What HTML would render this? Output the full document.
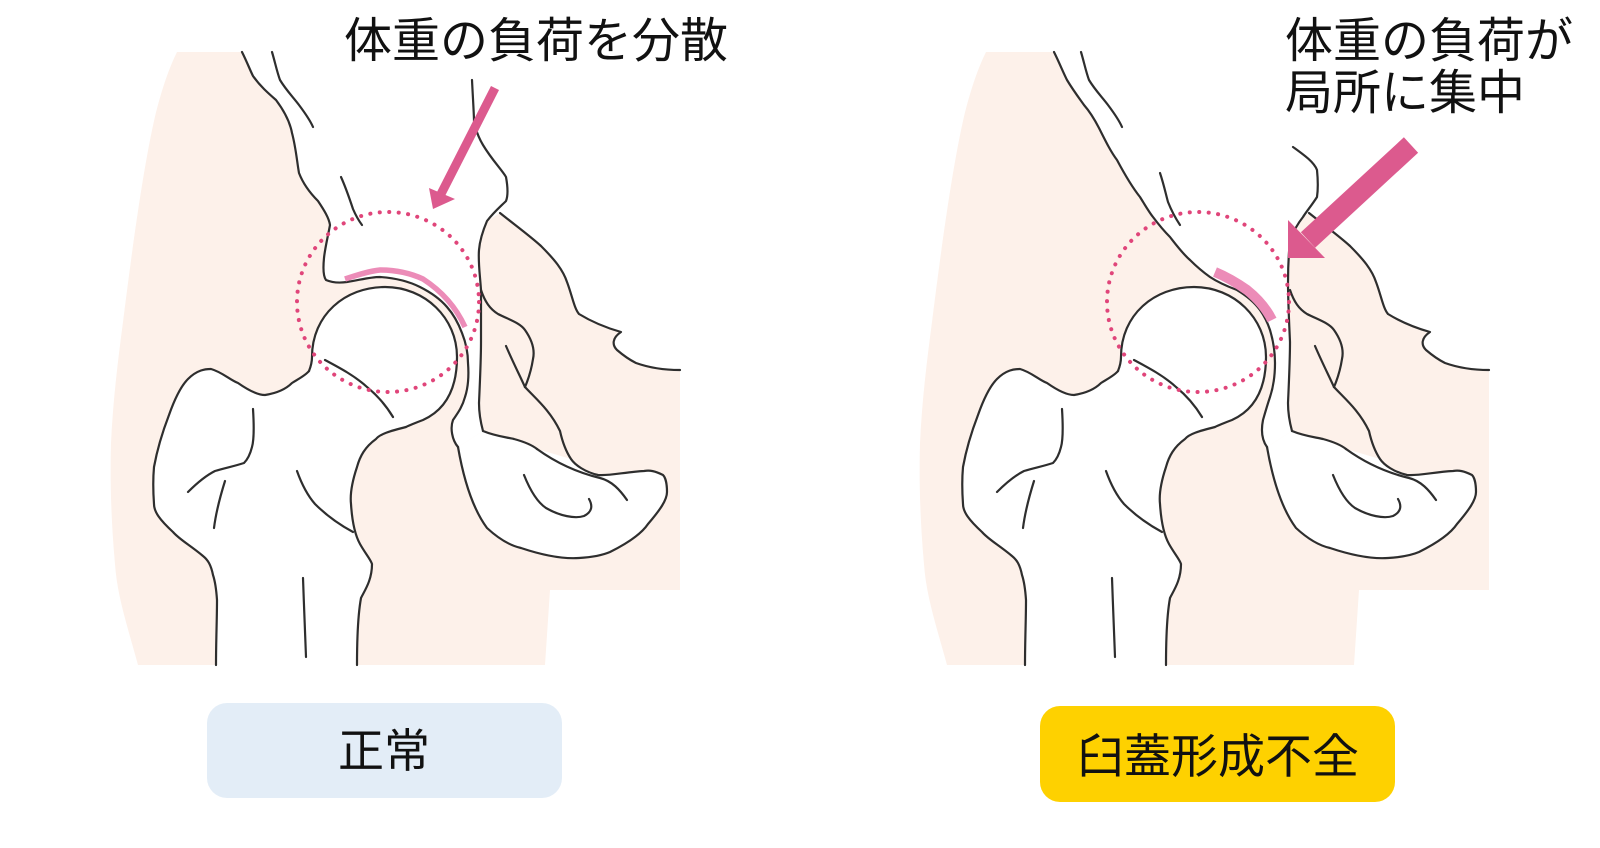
<!DOCTYPE html>
<html><head><meta charset="utf-8"><style>
html,body{margin:0;padding:0;background:#fff;}
svg{display:block;}
text{font-family:"Liberation Sans","Noto Sans CJK JP",sans-serif;fill:#111;}
</style></head><body>
<svg width="1600" height="848" viewBox="0 0 1600 848" xmlns="http://www.w3.org/2000/svg">
<defs>
<g id="common">
  <path d="M458,447 C462,470 470,505 487,528 C500,540 512,546 521,548 C545,556 565,559 579,558 C595,557 603,555 610,552 C630,542 642,533 648,524 C660,510 667,500 667,492 C667,480 664,476 663,475 C655,471 650,470 644,471 C625,472 610,476 598,475 C585,472 575,465 571,459 L537,449 C525,444 514,439 514,439 L483,431 Z" fill="#fff"/>
  <path d="M312,357 C312,315 345,287 385,287 C425,287 457,318 457,357 C457,390 445,410 423,420 C415,423 410,425 406,427 C390,431 380,434 376,439 C365,447 360,456 357,467 C352,482 350,495 351,504 C352,520 355,535 360,544 C365,553 371,560 372,564 C372,580 365,590 361,598 C357,620 357,650 357,665 L216,665 C216,640 217,620 217,600 C216,585 214,578 213,575 C211,565 208,560 203,556 C190,545 180,540 173,532 C160,520 154,512 154,504 C153,490 153,478 154,467 C158,445 164,428 169,415 C175,398 182,385 188,379 C197,370 205,369 211,369 C222,372 230,380 238,383 C248,390 257,395 265,395 C278,393 287,388 292,383 C300,378 306,375 309,371 Z" fill="#fff"/>
  <g fill="none" stroke="#2e2e2e" stroke-width="2.2" stroke-linecap="round" stroke-linejoin="round">
    <path d="M309,371 C311,366 312,362 312,357 C312,315 345,287 385,287 C425,287 457,318 457,357 C457,390 445,410 423,420 C415,423 410,425 406,427 C390,431 380,434 376,439 C365,447 360,456 357,467 C352,482 350,495 351,504 C352,520 355,535 360,544 C365,553 371,560 372,564 C372,580 365,590 361,598 C357,620 357,650 357,665"/>
    <path d="M309,371 C306,375 300,378 292,383 C287,388 278,393 265,395 C257,395 248,390 238,383 C230,380 222,372 211,369 C205,369 197,370 188,379 C182,385 175,398 169,415 C164,428 158,445 154,467 C153,478 153,490 154,504 C154,512 160,520 173,532 C180,540 190,545 203,556 C208,560 211,565 213,575 C214,578 216,585 217,600 C217,620 216,640 216,665"/>
    <path d="M253,409 C254,425 254,440 252,447 C250,455 247,460 244,463 C235,466 225,468 215,471 C205,476 196,484 188,492"/>
    <path d="M225,481 C220,497 216,512 214,528"/>
    <path d="M297,471 C302,485 308,496 315,504 C328,517 340,525 353,532"/>
    <path d="M303,578 C304,605 305,635 306,657"/>
    <path d="M325,360 C340,368 355,376 367,387 C378,396 387,407 393,417"/>
    <path d="M458,447 C462,470 470,505 487,528 C500,540 512,546 521,548 C545,556 565,559 579,558 C595,557 603,555 610,552 C630,542 642,533 648,524 C660,510 667,500 667,492 C667,480 664,476 663,475 C655,471 650,470 644,471 C625,472 610,476 598,475 C585,472 575,465 571,459 C565,450 562,440 560,431 C550,410 535,398 525,387"/>
    <path d="M483,431 C495,436 505,437 514,439 C525,442 532,445 537,449"/>
    <path d="M537,449 C555,462 575,472 600,478 C612,481 620,490 627,500"/>
    <path d="M524,475 C530,490 537,502 546,508 C560,516 575,519 584,516 C592,512 593,506 589,499"/>
    <path d="M500,213 C515,225 530,236 541,246 C555,260 563,270 567,282 C572,295 574,308 579,314 C592,322 607,328 621,332 C612,338 612,345 617,350 C624,356 630,360 636,363 C650,368 665,370 680,370"/>
    <path d="M481,290 C485,302 490,309 498,314 C510,320 520,323 525,330 C532,340 535,350 533,359 C531,372 528,380 525,387"/>
    <path d="M506,346 C512,360 518,372 525,387"/>
  </g>
</g>
</defs>

<path d="M177,52 L472,52 C472,70 472,75 472,80 C473,100 474,115 474,121 C476,132 480,140 483,145 C492,160 502,170 506,177 C508,188 508,196 506,201 C500,207 494,212 487,221 L500,213 C515,225 530,236 541,246 C555,260 563,270 567,282 C572,295 574,308 579,314 C592,322 607,328 621,332 C612,338 612,345 617,350 C624,356 630,360 636,363 C650,368 665,370 680,370 L680,590 L550,590 L545,665 L138,665 C127,625 117,595 115,564 C111,520 110,480 111,443 C113,400 118,360 123,322 C132,250 143,170 154,121 C160,95 168,70 177,52 Z" fill="#fdf1ea"/>
<path d="M242,52 C247,62 250,70 253,76 C260,86 268,93 276,100 C285,112 290,122 292,133 C296,148 297,162 299,173 C304,186 312,195 318,201 C324,210 329,218 330,225 C328,236 325,248 324,258 C323,268 323,276 326,280 C333,283 340,283 347,282 C360,280 370,277 380,277 C395,278 408,281 420,287 C432,293 441,300 447,307 C455,316 459,325 462,333 C466,343 468,353 468,363 C469,376 468,388 465,397 C462,408 457,414 453,420 C450,428 452,440 458,447 L483,431 C480,420 479,410 479,403 C480,380 481,360 481,342 C481,320 481,300 481,290 C480,275 478,262 479,250 C480,238 484,228 487,221 C494,212 500,207 506,201 C508,196 508,188 506,177 C502,170 492,160 483,145 C480,140 476,132 474,121 C474,115 473,100 472,80 L472,52 Z" fill="#fff"/>
<use href="#common"/>
<g fill="none" stroke="#2e2e2e" stroke-width="2.2" stroke-linecap="round" stroke-linejoin="round">
  <path d="M242,52 C247,62 250,70 253,76 C260,86 268,93 276,100 C285,112 290,122 292,133 C296,148 297,162 299,173 C304,186 312,195 318,201 C324,210 329,218 330,225 C328,236 325,248 324,258 C323,268 323,276 326,280 C333,283 340,283 347,282 C360,280 370,277 380,277 C395,278 408,281 420,287 C432,293 441,300 447,307 C455,316 459,325 462,333 C466,343 468,353 468,363 C469,376 468,388 465,397 C462,408 457,414 453,420 C450,428 452,440 458,447"/>
  <path d="M272,52 C275,62 277,72 280,80 C286,90 293,97 299,105 C305,113 310,120 313,127"/>
  <path d="M341,177 C346,188 350,200 353,209 C356,216 359,221 362,225"/>
  <path d="M472,80 C473,100 474,115 474,121 C476,132 480,140 483,145 C492,160 502,170 506,177 C508,188 508,196 506,201 C500,207 494,212 487,221 C484,228 480,238 479,250 C478,262 480,275 481,290 C481,300 481,320 481,342 C481,360 480,380 479,403 C479,410 480,420 483,431"/>
</g>
<path d="M345,279 C360,274 370,271 380,270 C395,270 410,273 423,279 C440,290 455,305 465,327" fill="none" stroke="#ec8cb8" stroke-width="5.5" stroke-linecap="butt"/>
<ellipse cx="388" cy="302" rx="91" ry="90" fill="none" stroke="#e0457a" stroke-width="4" stroke-dasharray="0.1 9.4" stroke-linecap="round"/>
<line x1="495" y1="88" x2="441" y2="194" stroke="#dc5a8e" stroke-width="9"/>
<polygon points="433,209 429,188 455,199" fill="#dc5a8e"/>

<g transform="translate(809,0)">
<path d="M177,52 L484,52 L484,147 C495,155 505,162 508,170 C509,180 509,190 508,197 C503,205 497,212 494,217 L500,213 C515,225 530,236 541,246 C555,260 563,270 567,282 C572,295 574,308 579,314 C592,322 607,328 621,332 C612,338 612,345 617,350 C624,356 630,360 636,363 C650,368 665,370 680,370 L680,590 L550,590 L545,665 L138,665 C127,625 117,595 115,564 C111,520 110,480 111,443 C113,400 118,360 123,322 C132,250 143,170 154,121 C160,95 168,70 177,52 Z" fill="#fdf1ea"/>
<path d="M245,52 C250,62 254,72 258,80 C264,90 270,98 275,105 C282,113 287,122 291,130 C297,142 302,152 308,160 C316,175 323,187 331,197 C336,205 340,212 344,217 C350,225 355,231 361,237 C368,246 374,254 381,260 C388,267 394,272 401,277 C410,283 420,287 428,290 C438,296 446,303 451,310 C456,317 459,324 461,330 C464,340 466,352 466,363 C466,375 464,388 461,397 C458,406 456,413 454,420 C452,430 453,440 458,447 L483,431 C480,420 479,410 479,403 C480,380 481,360 481,342 C480,320 479,300 479,283 C479,265 480,250 481,240 C485,230 490,222 494,217 C500,210 506,203 508,197 C509,190 509,180 508,170 C505,162 495,155 484,147 L484,52 Z" fill="#fff"/>
<use href="#common"/>
<g fill="none" stroke="#2e2e2e" stroke-width="2.2" stroke-linecap="round" stroke-linejoin="round">
  <path d="M245,52 C250,62 254,72 258,80 C264,90 270,98 275,105 C282,113 287,122 291,130 C297,142 302,152 308,160 C316,175 323,187 331,197 C336,205 340,212 344,217 C350,225 355,231 361,237 C368,246 374,254 381,260 C388,267 394,272 401,277 C410,283 420,287 428,290 C438,296 446,303 451,310 C456,317 459,324 461,330 C464,340 466,352 466,363 C466,375 464,388 461,397 C458,406 456,413 454,420 C452,430 453,440 458,447"/>
  <path d="M272,52 C275,62 277,72 280,80 C286,90 293,97 299,105 C305,113 310,120 313,127"/>
  <path d="M351,173 C355,185 357,195 359,202 C363,212 367,219 371,225"/>
  <path d="M484,147 C495,155 505,162 508,170 C509,180 509,190 508,197 C503,205 497,212 494,217 C490,222 485,230 481,240 C480,250 479,265 479,283 C479,300 480,320 481,342 C481,360 480,380 479,403 C479,410 480,420 483,431"/>
</g>
<path d="M406,272 C418,277 428,283 438,290 C448,298 457,308 463,320" fill="none" stroke="#ec8cb8" stroke-width="10" stroke-linecap="butt"/>
<ellipse cx="389" cy="302" rx="91" ry="90" fill="none" stroke="#e0457a" stroke-width="4" stroke-dasharray="0.1 9.4" stroke-linecap="round"/>
</g>
<line x1="1411" y1="145" x2="1308" y2="240" stroke="#dc5a8e" stroke-width="21"/>
<polygon points="1288,258 1288,220 1325,258" fill="#dc5a8e"/>

<text x="344" y="57" font-size="48">体重の負荷を分散</text>
<text x="1285" y="57" font-size="48">体重の負荷が</text>
<text x="1285" y="109" font-size="48">局所に集中</text>

<rect x="207" y="703" width="355" height="95" rx="20" fill="#e3edf7"/>
<text x="384" y="767" font-size="46" text-anchor="middle">正常</text>
<rect x="1040" y="706" width="355" height="96" rx="20" fill="#fed100"/>
<text x="1077" y="773" font-size="47">臼蓋形成不全</text>
</svg>
</body></html>
